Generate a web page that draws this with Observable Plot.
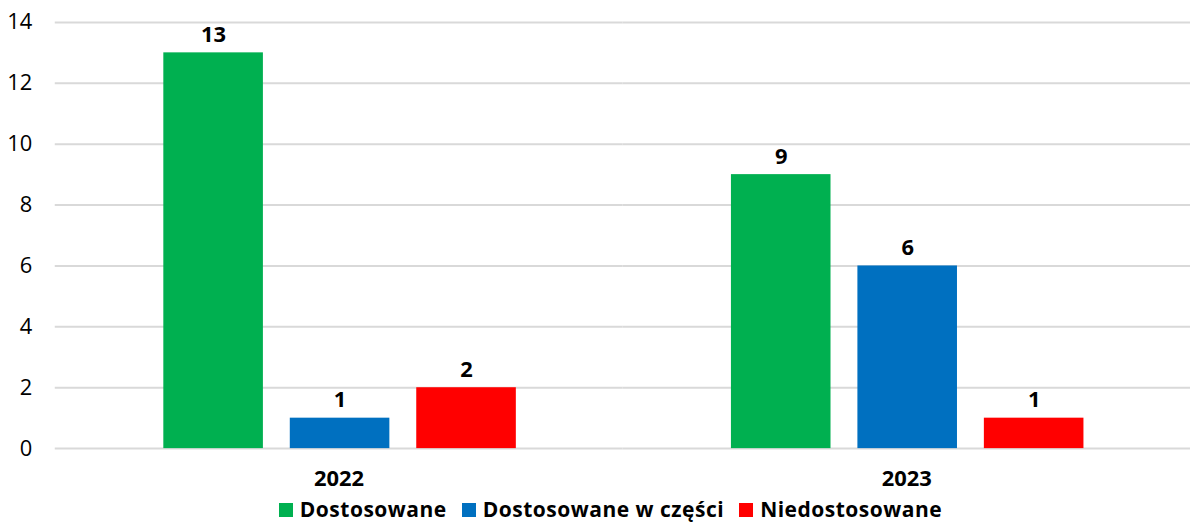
<!DOCTYPE html>
<html>
<head>
<meta charset="utf-8">
<script src="https://cdn.jsdelivr.net/npm/d3@7"></script>
<script src="https://cdn.jsdelivr.net/npm/@observablehq/plot@0.6"></script>
<style>
  html, body { margin: 0; padding: 0; background: #fff; }
  #wrap { width: 1190px; height: 524px; overflow: hidden; position: relative; }
  #legend { position: absolute; left: 0; top: 497px; width: 1190px; height: 24px; line-height: 24px; display: flex; justify-content: center; align-items: center; font-family: "Open Sans", sans-serif; font-weight: bold; font-size: 21px; letter-spacing: 0.5px; color: #000; padding-left: 46px; box-sizing: border-box; }
  .item { display: flex; align-items: center; margin-right: 15px; white-space: nowrap; line-height: 24px; }
  .sw { width: 14px; height: 14px; margin-right: 7px; display: inline-block; position: relative; top: 1px; }
</style>
</head>
<body>
<div id="wrap"><div id="chart"></div><div id="legend"></div></div>
<script>
const years = ["2022", "2023"];
const categories = ["Dostosowane", "Dostosowane w części", "Niedostosowane"];
const colors = ["#00B050", "#0070C0", "#FF0000"];
const values2022 = [13, 1, 2];
const values2023 = [9, 6, 1];
const yTicks = [0, 2, 4, 6, 8, 10, 12, 14];

const seriesByYear = {"2022": values2022, "2023": values2023};
const data = [];
for (const y of years) {
  categories.forEach((c, i) => data.push({year: y, category: c, value: seriesByYear[y][i]}));
}

const font = "'Open Sans', sans-serif";
const chart = Plot.plot({
  width: 1195,
  height: 500,
  marginLeft: 55,
  marginRight: 0,
  marginTop: 22,
  marginBottom: 50,
  style: {fontFamily: font, fontSize: "22px", color: "#000", background: "#fff", overflow: "visible"},
  fx: {domain: years, padding: 0, label: null},
  x: {domain: categories, paddingInner: 0.21, paddingOuter: 0.84, axis: null},
  y: {domain: [0, 14], ticks: yTicks, label: null},
  color: {domain: categories, range: colors},
  marks: [
    Plot.ruleY(yTicks, {stroke: "#d9d9d9", strokeWidth: 2}),
    Plot.barY(data, {fx: "year", x: "category", y: "value", fill: "category", inset: 0, dx: 1}),
    Plot.text(data, {fx: "year", x: "category", y: "value", text: d => String(d.value), lineAnchor: "bottom", dy: -11, dx: 1, fontWeight: "bold", fontSize: 22, fill: "#000"}),
    Plot.axisY({ticks: yTicks, tickSize: 0, tickPadding: 23, label: null, fontSize: 22, tickFormat: d => String(d)}),
    Plot.axisFx({anchor: "bottom", tickSize: 0, tickPadding: 22, label: null, fontSize: 22, fontWeight: "bold"})
  ]
});
document.getElementById("chart").appendChild(chart);

const legend = document.getElementById("legend");
categories.forEach((c, i) => {
  const item = document.createElement("span");
  item.className = "item";
  const sw = document.createElement("span");
  sw.className = "sw";
  sw.style.background = colors[i];
  item.appendChild(sw);
  item.appendChild(document.createTextNode(c));
  legend.appendChild(item);
});
</script>
</body>
</html>
